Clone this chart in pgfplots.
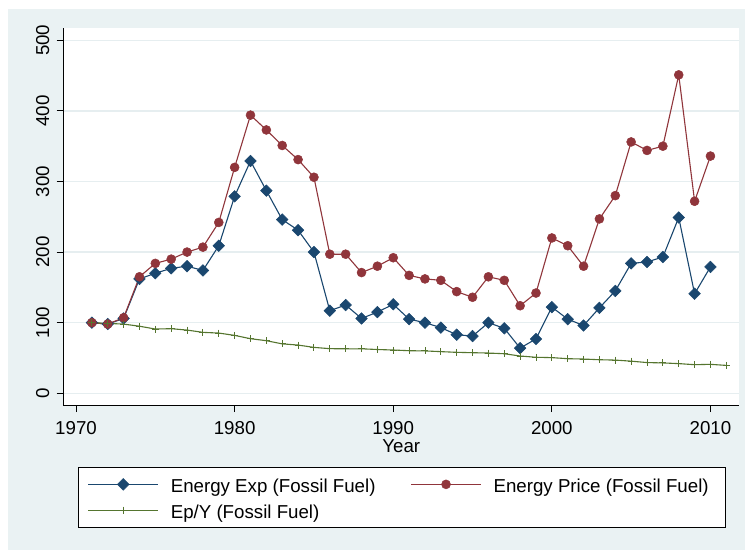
\documentclass[border=0pt]{standalone}
\usepackage{fontspec}
\setmainfont{Liberation Sans}
\usepackage{pgfplots}
\pgfplotsset{compat=1.18}
\definecolor{stnavy}{RGB}{26,71,111}
\definecolor{stmaroon}{RGB}{144,53,59}
\definecolor{stgreen}{RGB}{85,117,47}
\definecolor{stbg}{RGB}{234,242,243}
\definecolor{stgrid}{RGB}{230,238,240}
\newcommand{\lfont}{\fontsize{18.7}{22}\selectfont}
\newcommand{\lent}[1]{\makebox[223pt][l]{\rule[-5pt]{0pt}{23pt}#1}}
\begin{document}
\begin{tikzpicture}
\useasboundingbox (0pt,0pt) rectangle (745pt,550pt);
\fill[stbg] (8pt,0pt) rectangle (745pt,541pt);
\begin{axis}[
  at={(63.5pt,145pt)}, anchor=south west,
  scale only axis, width=675.5pt, height=377pt,
  xmin=1969.21, xmax=2011.8, ymin=-16.6, ymax=517.4,
  axis background/.style={fill=white},
  axis x line*=bottom, axis y line*=left,
  axis line style={black, line width=0.8pt},
  tick align=outside, major tick length=7pt,
  tick style={black, line width=0.8pt},
  xtick={1970,1980,1990,2000,2010},
  ytick={0,100,200,300,400,500},
  ymajorgrids, grid style={stgrid, line width=1.3pt},
  every tick label/.append style={font=\lfont},
  /pgf/number format/assume math mode=true,
  /pgf/number format/1000 sep={},
  yticklabel style={rotate=90, anchor=south, inner sep=0pt},
  yticklabel shift=7pt,
  xticklabel style={inner sep=0pt},
  xticklabel shift=9pt,
  xlabel={Year},
  xlabel style={font=\lfont, at={(axis description cs:0.5,-0.1247)}, anchor=base, inner sep=0pt},
  legend columns=2,
  legend cell align=left,
  legend image code/.code={\draw[mark repeat=2,mark phase=2,#1] plot coordinates {(0pt,0pt) (35pt,0pt) (70pt,0pt)};},
  legend style={at={(0.0219,-0.1637)}, anchor=north west, draw=black, line width=0.8pt, fill=white,
    inner xsep=9pt, inner ysep=7.5pt, font=\lfont, nodes={inner sep=0pt}, row sep=6.2pt,
    /tikz/every odd column/.append style={column sep=12pt},
    /tikz/every even column/.append style={column sep=16.7pt}},
]
\addplot[stnavy, line width=1.1pt, mark=square*, mark size=4.1pt, mark options={rotate=45, fill=stnavy, draw=stnavy, line width=0.5pt}] coordinates {
(1971,100) (1972,98) (1973,106) (1974,162) (1975,170) (1976,177) (1977,180) (1978,174) (1979,209) (1980,279)
(1981,329) (1982,287) (1983,246) (1984,231) (1985,200) (1986,117) (1987,125) (1988,106) (1989,115) (1990,126)
(1991,105) (1992,100) (1993,93) (1994,83) (1995,81) (1996,100) (1997,92) (1998,64) (1999,77) (2000,122)
(2001,105) (2002,96) (2003,121) (2004,145) (2005,184) (2006,186) (2007,193) (2008,249) (2009,141) (2010,179)
};
\addlegendentry{\lent{Energy Exp (Fossil Fuel)}}
\addplot[stmaroon, line width=1.1pt, mark=*, mark size=4.5pt, mark options={fill=stmaroon, draw=stmaroon, line width=0.5pt}] coordinates {
(1971,100) (1972,98) (1973,107) (1974,165) (1975,184) (1976,190) (1977,200) (1978,207) (1979,242) (1980,320)
(1981,394) (1982,373) (1983,351) (1984,331) (1985,306) (1986,197) (1987,197) (1988,171) (1989,180) (1990,192)
(1991,167) (1992,162) (1993,160) (1994,144) (1995,136) (1996,165) (1997,160) (1998,124) (1999,142) (2000,220)
(2001,209) (2002,180) (2003,247) (2004,280) (2005,356) (2006,344) (2007,350) (2008,451) (2009,272) (2010,336)
};
\addlegendentry{\lent{Energy Price (Fossil Fuel)}}
\addplot[stgreen, line width=1.1pt, mark=+, mark size=3.5pt, mark options={line width=0.9pt}] coordinates {
(1971,100) (1972,99) (1973,98) (1974,95) (1975,91) (1976,91.5) (1977,89.5) (1978,86.3) (1979,85.3) (1980,82)
(1981,77.3) (1982,74.5) (1983,70) (1984,68.3) (1985,65) (1986,63.2) (1987,63) (1988,63) (1989,62) (1990,61.3)
(1991,60.3) (1992,60) (1993,59) (1994,58) (1995,57.5) (1996,57) (1997,56) (1998,52.8) (1999,51) (2000,50.5)
(2001,49) (2002,48.5) (2003,47.5) (2004,47) (2005,45.5) (2006,43.5) (2007,43) (2008,42) (2009,40.5) (2010,41)
(2011,39.5)
};
\addlegendentry{\lent{Ep/Y (Fossil Fuel)}}
\end{axis}
\end{tikzpicture}
\end{document}
